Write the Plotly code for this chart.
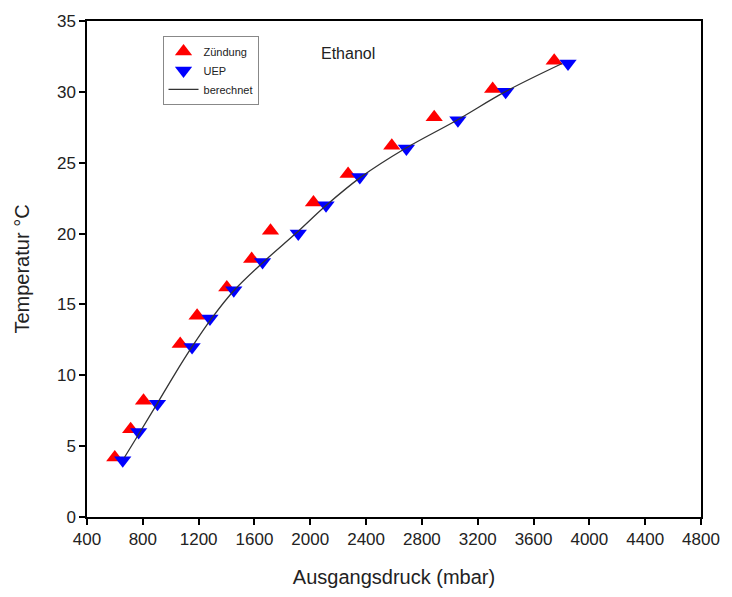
import plotly.graph_objects as go

# Zündung (ignition) points
zuend_p = [599, 713, 805, 1068, 1189, 1402, 1580, 1715, 2023, 2271, 2584, 2888, 3307, 3748]
zuend_t = [4.2, 6.2, 8.2, 12.2, 14.2, 16.2, 18.2, 20.2, 22.2, 24.2, 26.2, 28.2, 30.2, 32.2]

# UEP points
uep_p = [656, 770, 905, 1153, 1281, 1452, 1658, 1914, 2113, 2355, 2689, 3058, 3400, 3847]
uep_t = [4.0, 6.0, 8.0, 12.0, 14.0, 16.0, 18.0, 20.0, 22.0, 24.0, 26.0, 28.0, 30.0, 32.0]

# berechnet (calculated curve)
calc_p = [668, 780, 903, 1024, 1152, 1292, 1455, 1665, 1895, 2115, 2365, 2680, 3050, 3395, 3805]
calc_t = [4.2, 6.0, 8.0, 10.0, 12.0, 14.0, 16.0, 18.0, 20.0, 22.0, 24.0, 26.0, 28.0, 30.0, 32.0]

x_ticks = [400, 800, 1200, 1600, 2000, 2400, 2800, 3200, 3600, 4000, 4400, 4800]
y_ticks = [0, 5, 10, 15, 20, 25, 30, 35]

fig = go.Figure()
fig.add_trace(go.Scatter(x=zuend_p, y=zuend_t, mode="markers", name="Zündung",
                         marker=dict(symbol="triangle-up", size=15, color="#ff0000")))
fig.add_trace(go.Scatter(x=uep_p, y=uep_t, mode="markers", name="UEP",
                         marker=dict(symbol="triangle-down", size=15, color="#0000ff")))
fig.add_trace(go.Scatter(x=calc_p, y=calc_t, mode="lines", name="berechnet",
                         line=dict(color="#333333", width=1.3, shape="spline", smoothing=1.0)))

fig.add_annotation(x=0.425, y=0.935, xref="paper", yref="paper", text="Ethanol",
                   showarrow=False, xanchor="center", yanchor="middle",
                   font=dict(size=16, color="#222222"))

axis_common = dict(showline=True, linecolor="black", linewidth=1.5, mirror=True,
                   ticks="outside", ticklen=6, tickwidth=1.5, tickcolor="black",
                   showgrid=False, zeroline=False,
                   tickfont=dict(family="Liberation Sans, Arial", size=17, color="#222222"))

fig.update_layout(
    width=732, height=597,
    margin=dict(l=87, r=19, t=13, b=80),
    plot_bgcolor="white", paper_bgcolor="white",
    font=dict(family="Liberation Sans, Arial", color="#222222"),
    showlegend=True,
    legend=dict(x=0.123, y=0.97, xanchor="left", yanchor="top",
                bordercolor="#888888", borderwidth=1, bgcolor="white",
                font=dict(size=11), tracegroupgap=0, itemwidth=30),
    xaxis=dict(range=[400, 4800], tickvals=x_ticks, ticktext=[str(v) for v in x_ticks],
               title=dict(text="Ausgangsdruck (mbar)", font=dict(size=20), standoff=22),
               **axis_common),
    yaxis=dict(range=[0, 35], tickvals=y_ticks, ticktext=[str(v) for v in y_ticks],
               title=dict(text="Temperatur °C", font=dict(size=20), standoff=22),
               **axis_common),
)

fig.write_html("out.html")
